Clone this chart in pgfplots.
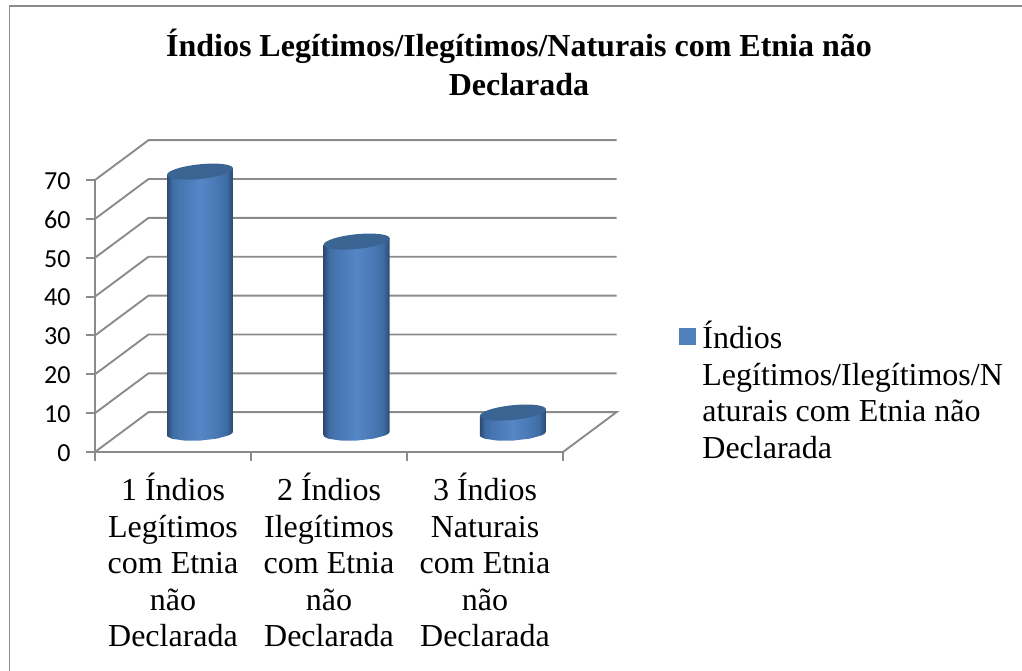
\documentclass[border=0pt]{standalone}
\usepackage{fontspec}
\setmainfont{Liberation Serif}
\newfontfamily\tickfont{Carlito}
\usepackage{pgfplots}
\pgfplotsset{compat=1.18}
\definecolor{gridc}{HTML}{8B8B8B}
\definecolor{capc}{HTML}{3A6491}
\definecolor{legc}{HTML}{4F81BD}
\definecolor{cA}{HTML}{2C4A72}
\definecolor{cB}{HTML}{3E6CA4}
\definecolor{cC}{HTML}{5586C6}
\pgfdeclarehorizontalshading{cyl}{100bp}{color(0bp)=(cA); color(25bp)=(cA); color(29bp)=(cB); color(35bp)=(cB!60!cC); color(50bp)=(cC); color(62bp)=(cB!50!cC); color(70bp)=(cB); color(75bp)=(cA); color(100bp)=(cA)}
\pgfdeclareplotmark{cyltop}{%
  \pgfsetfillcolor{capc}%
  \pgfpathellipse{\pgfpointorigin}{\pgfpoint{33pt}{3.4pt}}{\pgfpoint{-0.8pt}{7.3pt}}%
  \pgfusepathqfill}
\pgfplotsset{wall/.style={gridc,line width=1.9pt,forget plot,mark=none},
  body/.style={shade, shading=cyl, draw=none, forget plot, mark=none}}
\begin{document}
\begin{tikzpicture}[x=1pt,y=1pt]
\path[use as bounding box] (0,0) rectangle (1022,671);
\draw[color=gridc,line width=1.6pt] (9.3,0) -- (9.3,665.2) -- (1022,665.2);
\begin{axis}[
  anchor=south west, at={(95pt,219pt)},
  scale only axis, width=468pt, height=272pt,
  xmin=0, xmax=3, ymin=0, ymax=70,
  clip=false,
  axis x line*=bottom, axis y line*=left,
  axis line style={gridc,line width=1.9pt,-},
  tick style={gridc,line width=1.9pt},
  tick align=outside,
  major tick length=9pt,
  ytick={0,10,...,70},
  y tick label style={font=\fontsize{26}{30}\tickfont, /pgf/number format/assume math mode=true, xshift=-12pt, yshift=-1pt},
  xtick={0,1,2,3},
  xticklabels={},
  extra x ticks={0.5,1.5,2.5},
  extra x tick labels={
    1 Índios\\Legítimos\\com Etnia\\não\\Declarada,
    2 Índios\\Ilegítimos\\com Etnia\\não\\Declarada,
    3 Índios\\Naturais\\com Etnia\\não\\Declarada},
  extra x tick style={major tick length=0pt, tick style={draw=none},
    tick label style={font=\fontsize{32}{36.5}\selectfont, align=flush center, text width=156pt, yshift=-21pt, inner sep=0pt}},
  title={Índios Legítimos/Ilegítimos/Naturais com Etnia não\\Declarada},
  title style={font=\fontsize{32}{39}\selectfont\bfseries, align=center, at={(0.906,1.547)}, anchor=north},
]
% back wall and side wall
\addplot[wall] coordinates {(0,0)(0.343,10.25)(3.343,10.25)(3,0)};
\addplot[wall] coordinates {(0,10)(0.343,20.25)(3.343,20.25)};
\addplot[wall] coordinates {(0,20)(0.343,30.25)(3.343,30.25)};
\addplot[wall] coordinates {(0,30)(0.343,40.25)(3.343,40.25)};
\addplot[wall] coordinates {(0,40)(0.343,50.25)(3.343,50.25)};
\addplot[wall] coordinates {(0,50)(0.343,60.25)(3.343,60.25)};
\addplot[wall] coordinates {(0,60)(0.343,70.25)(3.343,70.25)};
\addplot[wall] coordinates {(0,70)(0.343,80.25)(3.343,80.25)};
\end{axis}
\begin{axis}[
  anchor=south west, at={(122pt,239pt)},
  scale only axis, width=468pt, height=272pt,
  xmin=0, xmax=3, ymin=0, ymax=70,
  clip=false, hide axis,
  legend style={at={(1.1902,0.415)}, anchor=north west, draw=none, fill=none, inner sep=0pt, outer sep=0pt,
     font=\fontsize{32}{36.5}\selectfont, legend cell align=left, column sep=0pt, row sep=0pt},
  legend image code/.code={\fill[legc] (0pt,-9pt) rectangle (16pt,7pt);},
]
% cylinder bodies: rounded base, slightly tilted top, as drawn in the reference
\addplot[body] coordinates {(0.7115,0.13)(0.7058,-0.355)(0.6859,-0.84)(0.6103,-1.69)(0.5051,-2.19)(0.3987,-2.20)(0.3192,-1.73)(0.2923,-1.21)(0.2885,-0.90)(0.2885,66.1)(0.7115,67.9)};
\addplot[body] coordinates {(1.7155,0.13)(1.7098,-0.355)(1.6899,-0.84)(1.6143,-1.69)(1.5091,-2.19)(1.4027,-2.20)(1.3232,-1.73)(1.2963,-1.21)(1.2925,-0.90)(1.2925,48.1)(1.7155,49.9)};
\addplot[body] coordinates {(2.7175,0.13)(2.7118,-0.355)(2.6919,-0.84)(2.6163,-1.69)(2.5111,-2.19)(2.4047,-2.20)(2.3252,-1.73)(2.2983,-1.21)(2.2945,-0.90)(2.2945,4.1)(2.7175,5.9)};
% top caps: the values
\addplot[only marks, mark=cyltop, forget plot] coordinates {(0.5,67)(1.504,49)(2.506,5)};
\addlegendimage{}
\addlegendentry{\hspace{5pt}\parbox[t]{320pt}{\raggedright Índios\\Legítimos/Ilegítimos/N\\aturais com Etnia não\\Declarada}}
\end{axis}
\end{tikzpicture}
\end{document}
